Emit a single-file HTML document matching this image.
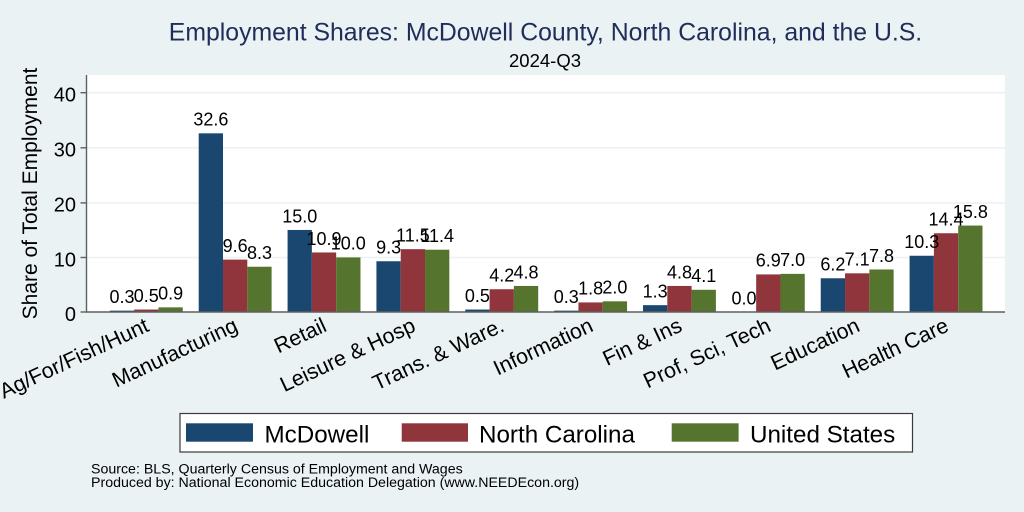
<!DOCTYPE html>
<html>
<head>
<meta charset="utf-8">
<style>
html,body{margin:0;padding:0;background:#EAF2F3;}
svg{display:block;}
text{font-family:"Liberation Sans",Arial,Helvetica,sans-serif;}
</style>
</head>
<body>
<svg width="1024" height="512" viewBox="0 0 1024 512" xmlns="http://www.w3.org/2000/svg">
<rect x="0" y="0" width="1024" height="512" fill="#EAF2F3"/>
<!-- titles -->
<text x="545.5" y="40.5" font-size="24.8" fill="#1E2D5A" text-anchor="middle">Employment Shares: McDowell County, North Carolina, and the U.S.</text>
<text x="545" y="67" font-size="18.5" fill="#000" text-anchor="middle">2024-Q3</text>
<!-- plot region -->
<rect x="86.5" y="75" width="918.5" height="237.3" fill="#FFFFFF"/>
<!-- gridlines -->
<g stroke="#EAF2F3" stroke-width="1.6">
<line x1="87" y1="92.7" x2="1005" y2="92.7"/>
<line x1="87" y1="147.8" x2="1005" y2="147.8"/>
<line x1="87" y1="202.9" x2="1005" y2="202.9"/>
<line x1="87" y1="257.5" x2="1005" y2="257.5"/>
</g>
<!-- bars -->
<g fill="#1A476F">
<rect x="109.85" y="310.65" width="24.3" height="1.65"/>
<rect x="198.71" y="133.33" width="24.3" height="178.97"/>
<rect x="287.57" y="229.95" width="24.3" height="82.35"/>
<rect x="376.43" y="261.24" width="24.3" height="51.06"/>
<rect x="465.29" y="309.55" width="24.3" height="2.75"/>
<rect x="554.15" y="310.65" width="24.3" height="1.65"/>
<rect x="643.01" y="305.16" width="24.3" height="7.14"/>
<rect x="820.73" y="278.26" width="24.3" height="34.04"/>
<rect x="909.59" y="255.75" width="24.3" height="56.55"/>
</g>
<g fill="#90353B">
<rect x="134.15" y="309.55" width="24.3" height="2.75"/>
<rect x="223.01" y="259.60" width="24.3" height="52.70"/>
<rect x="311.87" y="252.46" width="24.3" height="59.84"/>
<rect x="400.73" y="249.16" width="24.3" height="63.14"/>
<rect x="489.59" y="289.24" width="24.3" height="23.06"/>
<rect x="578.45" y="302.42" width="24.3" height="9.88"/>
<rect x="667.31" y="285.95" width="24.3" height="26.35"/>
<rect x="756.17" y="274.42" width="24.3" height="37.88"/>
<rect x="845.03" y="273.32" width="24.3" height="38.98"/>
<rect x="933.89" y="233.24" width="24.3" height="79.06"/>
</g>
<g fill="#55752F">
<rect x="158.45" y="307.36" width="24.3" height="4.94"/>
<rect x="247.31" y="266.73" width="24.3" height="45.57"/>
<rect x="336.17" y="257.40" width="24.3" height="54.90"/>
<rect x="425.03" y="249.71" width="24.3" height="62.59"/>
<rect x="513.89" y="285.95" width="24.3" height="26.35"/>
<rect x="602.75" y="301.32" width="24.3" height="10.98"/>
<rect x="691.61" y="289.79" width="24.3" height="22.51"/>
<rect x="780.47" y="273.87" width="24.3" height="38.43"/>
<rect x="869.33" y="269.48" width="24.3" height="42.82"/>
<rect x="958.19" y="225.56" width="24.3" height="86.74"/>
</g>
<!-- axes -->
<g stroke="#5F5F5F" stroke-width="1.4">
<line x1="86.5" y1="75" x2="86.5" y2="312.3"/>
<line x1="86" y1="312" x2="1005" y2="312"/>
<line x1="80.5" y1="92.7" x2="86.5" y2="92.7"/>
<line x1="80.5" y1="147.8" x2="86.5" y2="147.8"/>
<line x1="80.5" y1="202.9" x2="86.5" y2="202.9"/>
<line x1="80.5" y1="257.5" x2="86.5" y2="257.5"/>
<line x1="80.5" y1="312" x2="86.5" y2="312"/>
</g>
<!-- y tick labels -->
<g font-size="20" fill="#000" text-anchor="end">
<text x="76" y="101.5">40</text>
<text x="76" y="156.6">30</text>
<text x="76" y="211.7">20</text>
<text x="76" y="266.5">10</text>
<text x="76" y="321">0</text>
</g>
<!-- y axis title -->
<text transform="translate(37,193.5) rotate(-90)" font-size="21" fill="#000" text-anchor="middle">Share of Total Employment</text>
<!-- value labels -->
<g font-size="18" fill="#000" text-anchor="middle">
<text x="122.0" y="302.95">0.3</text>
<text x="146.3" y="301.85">0.5</text>
<text x="170.6" y="299.66">0.9</text>
<text x="210.86" y="125.63">32.6</text>
<text x="235.16" y="251.9">9.6</text>
<text x="259.46" y="259.03">8.3</text>
<text x="299.72" y="222.25">15.0</text>
<text x="324.02" y="244.76">10.9</text>
<text x="348.32" y="249.7">10.0</text>
<text x="388.58" y="253.54">9.3</text>
<text x="412.88" y="241.46">11.5</text>
<text x="437.18" y="242.01">11.4</text>
<text x="477.44" y="301.85">0.5</text>
<text x="501.74" y="281.54">4.2</text>
<text x="526.04" y="278.25">4.8</text>
<text x="566.30" y="302.95">0.3</text>
<text x="590.60" y="294.72">1.8</text>
<text x="614.90" y="293.62">2.0</text>
<text x="655.16" y="297.46">1.3</text>
<text x="679.46" y="278.25">4.8</text>
<text x="703.76" y="282.09">4.1</text>
<text x="744.02" y="304.6">0.0</text>
<text x="768.32" y="266.72">6.9</text>
<text x="792.62" y="266.17">7.0</text>
<text x="832.88" y="270.56">6.2</text>
<text x="857.18" y="265.62">7.1</text>
<text x="881.48" y="261.78">7.8</text>
<text x="921.74" y="248.05">10.3</text>
<text x="946.04" y="225.54">14.4</text>
<text x="970.34" y="217.86">15.8</text>
</g>
<!-- x labels -->
<g font-size="21.4" fill="#000" text-anchor="end">
<text transform="translate(150.3,330.5) rotate(-25)">Ag/For/Fish/Hunt</text>
<text transform="translate(239.2,330.5) rotate(-25)">Manufacturing</text>
<text transform="translate(328,330.5) rotate(-25)">Retail</text>
<text transform="translate(416.9,330.5) rotate(-25)">Leisure &amp; Hosp</text>
<text transform="translate(505.7,330.5) rotate(-25)">Trans. &amp; Ware.</text>
<text transform="translate(594.6,330.5) rotate(-25)">Information</text>
<text transform="translate(683.5,330.5) rotate(-25)">Fin &amp; Ins</text>
<text transform="translate(772.3,330.5) rotate(-25)">Prof, Sci, Tech</text>
<text transform="translate(861.2,330.5) rotate(-25)">Education</text>
<text transform="translate(950,330.5) rotate(-25)">Health Care</text>
</g>
<!-- legend -->
<rect x="180" y="413.5" width="732.5" height="38.5" fill="#FFFFFF" stroke="#3A3A3A" stroke-width="1.2"/>
<rect x="186" y="423.3" width="67" height="18.4" fill="#1A476F"/>
<rect x="401.7" y="423.3" width="66.3" height="18.4" fill="#90353B"/>
<rect x="671.7" y="423.3" width="66.9" height="18.4" fill="#55752F"/>
<g font-size="24.2" fill="#000">
<text x="264.5" y="442.5">McDowell</text>
<text x="479" y="442.5">North Carolina</text>
<text x="750" y="442.5">United States</text>
</g>
<!-- notes -->
<g font-size="14.2" fill="#000">
<text x="91" y="473.3">Source: BLS, Quarterly Census of Employment and Wages</text>
<text x="91" y="487">Produced by: National Economic Education Delegation (www.NEEDEcon.org)</text>
</g>
</svg>
</body>
</html>
